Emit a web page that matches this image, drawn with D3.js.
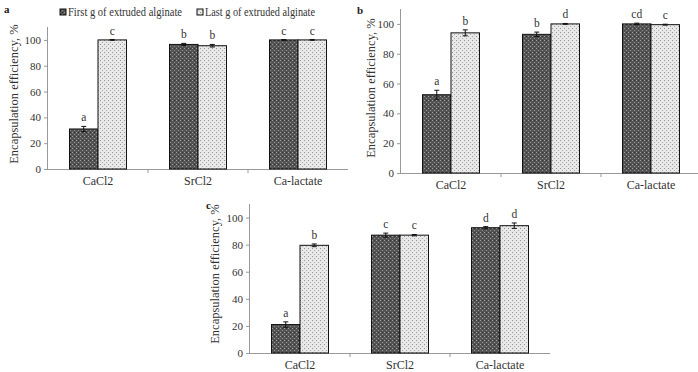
<!DOCTYPE html>
<html><head><meta charset="utf-8">
<script src="https://cdn.jsdelivr.net/npm/d3@7"></script>
<style>body{margin:0;background:#fff}svg{display:block}</style>
</head><body>
<svg id="chart" width="698" height="372"></svg>
<script>
const categories = ["CaCl2", "SrCl2", "Ca-lactate"];
const seriesNames = ["First g of extruded alginate", "Last g of extruded alginate"];
const yTicks = [0, 20, 40, 60, 80, 100];
// panel a
const aFirst = [31, 96.5, 100];
const aFirstErr = [2, 0.8, 0.3];
const aLast = [100, 95.5, 100];
const aLastErr = [0.3, 1, 0.3];
const aFirstLet = ["a", "b", "c"];
const aLastLet = ["c", "b", "c"];
// panel b
const bFirst = [52.5, 93, 100];
const bFirstErr = [3, 1.5, 0.5];
const bLast = [94, 100, 99.5];
const bLastErr = [2, 0.3, 0.3];
const bFirstLet = ["a", "b", "cd"];
const bLastLet = ["b", "d", "c"];
// panel c
const cFirst = [21, 87, 92.5];
const cFirstErr = [2, 1.5, 0.8];
const cLast = [79.5, 87, 94];
const cLastErr = [1, 0.5, 2];
const cFirstLet = ["a", "c", "d"];
const cLastLet = ["b", "c", "d"];

const svg = d3.select("#chart");
const defs = svg.append("defs");
// dark checkered pattern
const p1 = defs.append("pattern").attr("id","pDark").attr("width",4).attr("height",4).attr("patternUnits","userSpaceOnUse");
p1.append("rect").attr("width",4).attr("height",4).attr("fill","#545454");
p1.append("rect").attr("x",0).attr("y",0).attr("width",1).attr("height",1).attr("fill","#a0a0a0");
p1.append("rect").attr("x",2).attr("y",2).attr("width",1).attr("height",1).attr("fill","#8c8c8c");
p1.append("rect").attr("x",2).attr("y",0).attr("width",1).attr("height",1).attr("fill","#333");
// light dotted pattern
const p2 = defs.append("pattern").attr("id","pLight").attr("width",4).attr("height",4).attr("patternUnits","userSpaceOnUse");
p2.append("rect").attr("width",4).attr("height",4).attr("fill","#e8e8e8");
p2.append("rect").attr("x",0).attr("y",0).attr("width",1).attr("height",1).attr("fill","#959595");
p2.append("rect").attr("x",2).attr("y",2).attr("width",1).attr("height",1).attr("fill","#aaa");

const font = "'Liberation Serif','Times New Roman',serif";
const txt = "#333";

function panel(o) {
  const x = d3.scaleBand().domain(categories).range([o.x0, o.x1]).paddingInner(0.43).paddingOuter(0.215);
  const y = d3.scaleLinear().domain([0, 110]).range([o.yb, o.yt]);
  const g = svg.append("g");
  // y axis
  const ya = g.append("g").attr("transform", `translate(${o.x0},0)`)
    .call(d3.axisLeft(y).tickValues(yTicks).tickSize(4).tickPadding(3));
  ya.select(".domain").attr("stroke","#999").attr("d", `M-0.5,${o.yb}V${o.yt}`);
  ya.selectAll(".tick line").attr("stroke","#999");
  ya.selectAll("text").attr("font-family",font).attr("font-size",11).attr("fill",txt);
  // x axis
  const xa = g.append("g").attr("transform", `translate(0,${o.yb})`);
  xa.append("line").attr("x1",o.x0).attr("x2",o.x1).attr("y1",0.5).attr("y2",0.5).attr("stroke","#999");
  const bounds = [1, 2].map(i => o.x0 + i * x.step());
  xa.selectAll("line.t").data(bounds).join("line").attr("class","t")
    .attr("x1",d=>d).attr("x2",d=>d).attr("y1",0).attr("y2",4).attr("stroke","#999");
  xa.selectAll("text").data(categories).join("text")
    .attr("x", d => x(d) + x.bandwidth()/2).attr("y", 16)
    .attr("text-anchor","middle").attr("font-family",font).attr("font-size",12).attr("fill",txt).text(d=>d);
  // bars
  const sub = d3.scaleBand().domain([0,1]).range([0, x.bandwidth()]);
  const series = [
    {vals:o.first, err:o.firstErr, lets:o.firstLet, fill:"url(#pDark)"},
    {vals:o.last, err:o.lastErr, lets:o.lastLet, fill:"url(#pLight)"}
  ];
  series.forEach((s, si) => {
    const data = categories.map((c, i) => ({c, v:s.vals[i], e:s.err[i], l:s.lets[i]}));
    const bg = g.append("g");
    bg.selectAll("rect").data(data).join("rect")
      .attr("x", d => x(d.c) + sub(si)).attr("width", sub.bandwidth())
      .attr("y", d => y(d.v)).attr("height", d => y(0) - y(d.v))
      .attr("fill", s.fill).attr("stroke","#111").attr("stroke-width",1);
    const eg = bg.selectAll("g.err").data(data).join("g").attr("class","err");
    eg.append("line").attr("x1", d => x(d.c)+sub(si)+sub.bandwidth()/2).attr("x2", d => x(d.c)+sub(si)+sub.bandwidth()/2)
      .attr("y1", d => y(d.v + d.e)).attr("y2", d => y(d.v - d.e)).attr("stroke","#111");
    [1,-1].forEach(sg => {
      eg.append("line").attr("x1", d => x(d.c)+sub(si)+sub.bandwidth()/2-2.5).attr("x2", d => x(d.c)+sub(si)+sub.bandwidth()/2+2.5)
        .attr("y1", d => y(d.v + sg*d.e)).attr("y2", d => y(d.v + sg*d.e)).attr("stroke","#111");
    });
    bg.selectAll("text").data(data).join("text")
      .attr("x", d => x(d.c)+sub(si)+sub.bandwidth()/2).attr("y", d => y(d.v + d.e) - 5)
      .attr("text-anchor","middle").attr("font-family",font).attr("font-size",11.5).attr("fill",txt).text(d => d.l);
  });
  // y title
  g.append("text").attr("transform", `translate(${o.tx},${o.ty}) rotate(-90)`)
    .attr("text-anchor","middle").attr("font-family",font).attr("font-size",12.5).attr("fill",txt)
    .text("Encapsulation efficiency, %");
  // panel letter
  g.append("text").attr("x", o.lx).attr("y", o.ly).attr("font-family",font).attr("font-weight","bold")
    .attr("font-size",11).attr("fill","#222").text(o.letter);
}

panel({x0:48, x1:348, yb:169, yt:27, first:aFirst, firstErr:aFirstErr, last:aLast, lastErr:aLastErr,
  firstLet:aFirstLet, lastLet:aLastLet, tx:18, ty:94, lx:4, ly:13, letter:"a"});
panel({x0:401, x1:701, yb:173, yt:9, first:bFirst, firstErr:bFirstErr, last:bLast, lastErr:bLastErr,
  firstLet:bFirstLet, lastLet:bLastLet, tx:375, ty:88, lx:357, ly:14, letter:"b"});
panel({x0:250, x1:550, yb:353, yt:204, first:cFirst, firstErr:cFirstErr, last:cLast, lastErr:cLastErr,
  firstLet:cFirstLet, lastLet:cLastLet, tx:219, ty:274, lx:206, ly:209, letter:"c"});

// legend
const leg = svg.append("g");
const legX = [60, 197];
const legLen = [114, 110];
seriesNames.forEach((n, i) => {
  leg.append("rect").attr("x", legX[i]).attr("y", 9).attr("width", 6).attr("height", 6)
    .attr("fill", i === 0 ? "url(#pDark)" : "url(#pLight)").attr("stroke","#111");
  leg.append("text").attr("x", legX[i] + 8).attr("y", 16).attr("font-family",font).attr("font-size",11.5)
    .attr("textLength", legLen[i]).attr("lengthAdjust","spacingAndGlyphs")
    .attr("fill",txt).text(n);
});
</script>
</body></html>
